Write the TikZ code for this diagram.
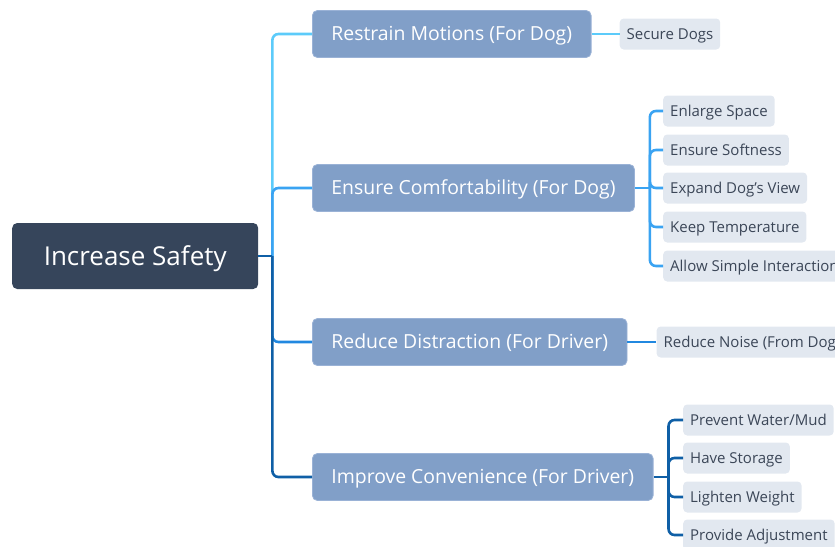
\documentclass[tikz,border=0pt]{standalone}
\usepackage{fontspec}
\setmainfont{Open Sans}
\usepackage{xcolor}
\usetikzlibrary{positioning}

\definecolor{rootfill}{HTML}{36455B}
\definecolor{topicfill}{HTML}{819FC8}
\definecolor{topicedge}{HTML}{9AB2D6}
\definecolor{leaffill}{HTML}{E2E8F0}
\definecolor{leaftext}{HTML}{3B4657}
\definecolor{bone}{HTML}{5CCBFA}
\definecolor{btwo}{HTML}{3AA3F2}
\definecolor{bthree}{HTML}{2188E0}
\definecolor{bfour}{HTML}{0F5FA6}

\begin{document}
\begin{tikzpicture}[x=1pt, y=-1pt,
				every node/.style={text depth=0pt, anchor=west},
				root/.style={fill=rootfill, text=white, rounded corners=5pt, text height=18.6pt,
					minimum width=246pt, minimum height=66pt, font=\fontsize{26}{30}\selectfont},
				topic/.style={fill=topicfill, draw=topicedge, line width=0.8pt, text=white, rounded corners=5pt,
					text height=13.9pt, minimum height=47pt, inner xsep=19pt, font=\fontsize{19.4}{23}\selectfont},
				leaf/.style={fill=leaffill, text=leaftext, rounded corners=4pt, text height=10.7pt,
					minimum height=31pt, inner xsep=7pt, font=\fontsize{15}{18}\selectfont},
				link/.style={line width=2.6pt, rounded corners=6pt}]
			\useasboundingbox (0,0) rectangle (835,546);
			\clip (0,0) rectangle (835,546);

			% central topic and main branches
			\node[root] (safety) at (12,256) {Increase Safety};
			\node[topic] (restrain) at (312,34) {Restrain Motions (For Dog)};
			\node[topic] (comfort) at (312,188) {Ensure Comfortability (For Dog)};
			\node[topic] (distract) at (312,342) {Reduce Distraction (For Driver)};
			\node[topic] (convenience) at (312,477) {Improve Convenience (For Driver)};

			% subtopics
			\node[leaf, right=28pt of restrain] (secure) {Secure Dogs};
			\node[leaf] (space) at (663,111) {Enlarge Space};
			\node[leaf] (soft) at (663,150) {Ensure Softness};
			\node[leaf] (view) at (663,188) {Expand Dog's View};
			\node[leaf] (temp) at (663,227) {Keep Temperature};
			\node[leaf] (interact) at (663,266) {Allow Simple Interaction};
			\node[leaf, right=29pt of distract] (noise) {Reduce Noise (From Dog)};
			\node[leaf] (water) at (683,420) {Prevent Water/Mud};
			\node[leaf] (storage) at (683,458) {Have Storage};
			\node[leaf] (weight) at (683,497) {Lighten Weight};
			\node[leaf] (adjust) at (683,535) {Provide Adjustment};

			% connectors
			\path (safety.east) ++(14,0) coordinate (hub);
			\draw[link, bone] (hub) |- (restrain.west);
			\draw[link, btwo] (hub) |- (comfort.west);
			\draw[link, bthree] (hub) |- (distract.west);
			\draw[link, bfour] (hub) |- (convenience.west);
			\draw[link, bfour] (safety.east) -- (hub);

			\draw[link, bone] (restrain.east) -- (secure.west);
			\draw[link, bthree] (distract.east) -- (noise.west);

			\path (comfort.east) ++(15,0) coordinate (chub);
			\draw[link, btwo] (comfort.east) -- (chub);
			\foreach \n in {space,soft,view,temp,interact}
				\draw[link, btwo] (chub) |- (\n.west);

			\path (convenience.east) ++(15,0) coordinate (vhub);
			\draw[link, bfour] (convenience.east) -- (vhub);
			\foreach \n in {water,storage,weight,adjust}
				\draw[link, bfour] (vhub) |- (\n.west);
		\end{tikzpicture}
\end{document}
